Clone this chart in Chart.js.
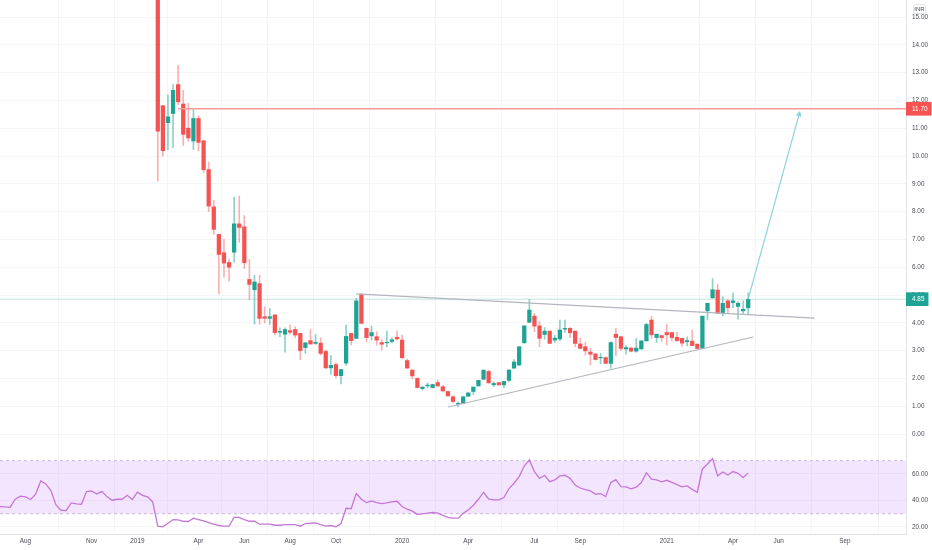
<!DOCTYPE html>
<html><head><meta charset="utf-8">
<style>html,body{margin:0;padding:0;background:#fff}canvas{display:block}</style>
<script src="https://cdn.jsdelivr.net/npm/chart.js@4/dist/chart.umd.min.js"></script>
</head><body><canvas id="c" width="932" height="550"></canvas>
<script>
const weekCount = 179;
const tickWeeks = [5,18,27,39,48,57,66,79,92,105,114,131,144,153,166];
const tickNames = ['Aug','Nov','2019','Apr','Jun','Aug','Oct','2020','Apr','Jul','Sep','2021','Apr','Jun','Sep'];
const priceTicks = [0,1,2,3,4,5,6,7,8,9,10,11,12,13,14,15];
const rsiTicks = [20,40,60];
const firstCandleWeek = 31;
const candleOpen = [17,11.81,11.2,11.53,12.57,11.87,11,10.54,11.35,10.55,
 9.51,8.17,7.18,6.52,6.17,6.54,7.56,7.45,5.56,5.19,
 5.41,4.22,4.16,4.28,3.66,3.59,3.72,3.76,3.62,3.11,
 3.36,3.26,3.27,2.97,2.38,2.5,2.1,2.55,3.62,3.44,
 5.02,3.8,3.53,3.5,3.29,3.28,3.33,3.48,3.38,2.64,
 2.3,2,1.63,1.73,1.67,1.85,1.7,1.53,1.34,1.07,
 1.1,1.36,1.53,1.73,1.97,2.25,1.77,1.85,1.77,1.93,
 2.37,2.48,3.28,4.02,4.24,3.89,3.58,3.7,3.38,3.42,
 3.77,3.8,3.7,3.24,3.14,2.95,2.88,2.74,2.75,2.54,
 3.59,3.5,3.06,3.09,2.98,3.06,3.35,4.1,3.47,3.54,
 3.65,3.65,3.48,3.44,3.32,3.34,3.23,3.08,4.43,4.9,
 5.18,4.34,4.79,4.73,4.59,4.43,4.54];
const candleHigh = [17,11.81,12.2,12.57,13.26,12.36,11.9,11.67,11.45,10.55,
 9.78,8.41,7.18,7,6.28,8.52,8.56,7.86,6.28,5.71,
 5.71,4.58,4.52,4.3,3.82,3.82,3.92,3.86,3.62,3.3,
 3.76,3.58,3.46,3.02,2.83,2.56,2.32,3.92,3.62,4.88,
 5.05,3.82,3.89,3.68,3.4,3.7,3.46,3.7,3.56,2.7,
 2.32,2.02,1.69,1.84,1.79,1.94,1.75,1.53,1.37,1.16,
 1.34,1.48,1.69,1.93,2.3,2.3,1.88,1.85,1.9,2.32,
 2.68,3.14,3.89,4.84,4.34,4.04,3.83,3.71,3.56,4.1,
 4.1,3.83,3.71,3.44,3.3,3.08,2.9,2.9,2.77,3.32,
 3.8,3.5,3.18,3.13,3.44,3.35,3.98,4.24,3.59,3.55,
 3.94,3.65,3.67,3.45,3.5,3.74,3.25,4.24,4.7,5.59,
 5.39,4.94,4.84,5.08,4.76,4.79,5.08];
const candleLow = [9.1,9.99,10.23,10.3,11.85,10.38,10.53,10.23,10.19,9.41,
 8,7.18,5.04,5.64,5.5,6.18,6.9,5.95,4.84,3.95,
 3.95,4,3.94,3.56,3.5,2.94,3.6,3.46,2.68,2.9,
 3.22,3.22,2.84,2.35,2.14,2.02,1.8,2.47,3.2,3.44,
 3.98,3.32,3.38,3.2,3.02,3.14,3.28,3.38,2.74,2.37,
 1.99,1.66,1.58,1.67,1.65,1.71,1.53,1.36,1.12,0.98,
 1.09,1.35,1.42,1.72,1.96,1.83,1.7,1.75,1.67,1.88,
 2.36,2.47,3.27,4,3.68,3.14,3.41,3.25,3.29,3.36,
 3.65,3.47,3.14,3.08,2.84,2.48,2.66,2.52,2.53,2.36,
 2.83,3,2.87,2.95,2.94,3.05,3.34,3.44,3.29,3.33,
 3.2,3.35,3.33,3.16,3.17,3.18,3.05,3.08,4.1,4.88,
 4.34,4.24,4.34,4.54,4.13,4.34,4.3];
const candleClose = [10.89,10.19,11.41,12.36,11.95,10.78,10.65,11.35,10.49,9.51,
 8.2,7.36,6.46,6.15,6,7.56,7.43,6.16,5.38,5.47,
 4.16,4.16,4.22,3.65,3.69,3.76,3.66,3.56,3,3.28,
 3.24,3.3,2.9,2.38,2.47,2.1,2.32,3.51,3.36,4.79,
 3.98,3.47,3.65,3.38,3.23,3.3,3.39,3.42,2.74,2.37,
 2.09,1.67,1.69,1.76,1.78,1.73,1.55,1.37,1.17,1.1,
 1.34,1.48,1.69,1.93,2.3,1.84,1.82,1.77,1.89,2.3,
 2.59,3.14,3.89,4.46,3.88,3.44,3.7,3.26,3.45,3.74,
 3.8,3.64,3.26,3.08,2.99,2.87,2.68,2.76,2.54,3.29,
 3.47,3.08,3.11,2.98,3.09,3.35,3.94,3.57,3.59,3.47,
 3.57,3.47,3.36,3.27,3.36,3.18,3.08,4.24,4.7,5.19,
 4.34,4.7,4.54,4.79,4.7,4.49,4.84];
const rsiValues = [35.4,35.1,34.9,40.9,43.2,42.7,40.7,44.7,54.7,52.5,47.4,36.6,32.6,32.4,38.1,37.4,37.1,46.7,47.2,44.9,
 46.9,42.9,40.2,40.9,40.9,43.9,40.7,46.2,43.9,42.7,38.9,20.6,20.1,22.8,25.6,25.3,24.3,24.1,26.6,25.6,
 24.6,23.3,22.1,21.1,20.6,20.6,27.3,27.3,25.6,24.3,24.3,22.1,22.1,22.1,21.3,21.3,21.8,21.8,21.8,20.6,
 22.6,22.8,23.1,21.8,20.6,21.1,20.1,22.6,34.1,33.9,45.2,40.9,38.4,39.6,38.4,37.6,38.1,38.9,39.4,35.4,
 33.4,31.9,29.6,29.9,30.4,30.9,30.4,28.8,27.3,26.6,26.6,30.4,32.9,36.4,40.9,46.2,41.2,40.4,40.4,42.2,
 48.9,53,58,66,70.6,61.8,56.7,59,54.2,55.5,58.5,59,56.7,51.7,49.4,48.2,47.2,44.7,45.2,42.9,
 53.5,55.7,50.5,50.2,48.7,50,53.5,61,56,55.5,54,55.2,53.7,52,50.2,51,48.4,46.2,63.8,67.5,
 71.6,58.5,61.5,59.2,61.8,60.5,57.2,60.8];
const rsiUpper = 70, rsiLower = 30;
const resistanceLevel = 11.7, resistanceFrom = 35;
const lastPrice = 4.85;
const upperTrend = [[70,5.04],[160,4.17]];
const lowerTrend = [[88,0.97],[148,3.49]];
const arrowShaft = [[147,4.86],[157,11.5]];

const GREEN='#1fa394', RED='#f55252', GREEN_W='rgba(31,163,148,.5)', RED_W='rgba(245,82,82,.45)';
const labels = Array.from({length:weekCount},(_,i)=>{const k=tickWeeks.indexOf(i);return k<0?'':tickNames[k];});
const sparse = pts => labels.map((_,i)=>{const p=pts.find(q=>q[0]===i);return p?p[1]:null;});
const bodies = labels.map((_,i)=>{const k=i-firstCandleWeek;return candleOpen[k]===undefined?null:[candleOpen[k],candleClose[k]];});
const wicks = labels.map((_,i)=>{const k=i-firstCandleWeek;return candleOpen[k]===undefined?null:[candleLow[k],candleHigh[k]];});
const isUp = i=>{const k=i-firstCandleWeek;return candleClose[k]>=candleOpen[k];};
const line = (data,color,extra={},axis='yPrice')=>Object.assign({type:'line',data,yAxisID:axis,borderColor:color,borderWidth:1,pointRadius:0,spanGaps:true,tension:0,order:1},extra);
const noPad = s=>{s.paddingTop=0;s.paddingBottom=0;s.paddingLeft=0;s.paddingRight=0;};
const tickFont = {family:'"Liberation Sans"',size:6.4};
const tickColor = '#4a4d57';
const gridColor = '#f4f5f9';
const arrowColor = '#8ad3dc';

new Chart(document.getElementById('c'),{
 type:'bar',
 data:{labels,datasets:[
  {data:wicks,yAxisID:'yPrice',grouped:false,barThickness:1,order:6,backgroundColor:c=>isUp(c.dataIndex)?GREEN_W:RED_W},
  {data:bodies,yAxisID:'yPrice',grouped:false,barThickness:3.6,order:5,backgroundColor:c=>isUp(c.dataIndex)?GREEN:RED},
  line(labels.map(()=>lastPrice),'rgba(90,175,170,.35)',{order:7}),
  line(sparse([[resistanceFrom,resistanceLevel],[weekCount-1,resistanceLevel]]),'#f99a9a',{borderWidth:1.4}),
  line(sparse(upperTrend),'#b2b5be',{borderWidth:1.1}),
  line(sparse(lowerTrend),'#b2b5be',{borderWidth:1.1}),
  line(sparse(arrowShaft),arrowColor,{borderWidth:1.2,
    pointStyle:'triangle',pointRotation:15,pointBackgroundColor:arrowColor,pointBorderColor:arrowColor,
    pointRadius:c=>c.dataIndex===arrowShaft[1][0]?2.2:0}),
  line(labels.map(()=>rsiUpper),'#c9b6d6',{borderDash:[3,3],order:4},'yRsi'),
  line(labels.map(()=>rsiLower),'#c9b6d6',{borderDash:[3,3],fill:'-1',backgroundColor:'rgba(152,0,255,.1)',order:4},'yRsi'),
  line(rsiValues.concat(Array(weekCount-rsiValues.length).fill(null)),'#c476d8',{borderWidth:1.3,spanGaps:false,order:2},'yRsi')
 ]},
 options:{
  responsive:false,animation:false,events:[],
  layout:{padding:0},
  plugins:{legend:{display:false},tooltip:{enabled:false},title:{display:false}},
  scales:{
   x:{type:'category',offset:false,position:'bottom',
    grid:{color:gridColor,drawTicks:false},border:{color:'#e0e3eb'},
    afterBuildTicks:s=>{s.ticks=tickWeeks.map(v=>({value:v}));},
    afterFit:s=>{s.height=16;noPad(s);},
    ticks:{autoSkip:false,maxRotation:0,minRotation:0,padding:3,color:tickColor,font:tickFont}},
   yPrice:{type:'linear',position:'right',stack:'panes',stackWeight:453,min:-0.683,max:15.612,
    grid:{color:c=>(c.tick&&c.tick.special)?'rgba(0,0,0,0)':gridColor,drawTicks:false},border:{color:'#e0e3eb'},
    afterBuildTicks:s=>{s.ticks=priceTicks.map(v=>({value:v})).concat([{value:resistanceLevel,special:RED},{value:lastPrice,special:GREEN}]);},
    afterFit:s=>{s.width=26;noPad(s);},
    ticks:{autoSkip:false,padding:6,font:tickFont,
     callback:v=>v.toFixed(2),
     color:c=>c.tick.special?'#fff':tickColor,
     showLabelBackdrop:c=>!!c.tick.special,
     backdropColor:c=>c.tick.special||'rgba(0,0,0,0)',
     backdropPadding:{left:6,right:4,top:3,bottom:3}}},
   yRsi:{type:'linear',position:'right',stack:'panes',stackWeight:81,min:14.7,max:75.8,
    grid:{color:gridColor,drawTicks:false},border:{color:'#e0e3eb'},
    afterBuildTicks:s=>{s.ticks=rsiTicks.map(v=>({value:v}));},
    afterFit:s=>{s.width=26;noPad(s);},
    ticks:{autoSkip:false,padding:6,color:tickColor,font:tickFont,callback:v=>v.toFixed(2)}}
  }
 },
 plugins:[{id:'currency',afterDraw(ch){
   const g=ch.ctx;g.save();
   g.fillStyle='#fff';g.strokeStyle='#e0e3eb';g.lineWidth=1;
   g.beginPath();g.roundRect(913.5,4.5,12,9,2);g.fill();g.stroke();
   g.fillStyle=tickColor;g.font='6px "Liberation Sans"';g.textAlign='center';g.textBaseline='middle';
   g.fillText('INR',919.5,9.2);g.restore();
 }}]
});
</script></body></html>
